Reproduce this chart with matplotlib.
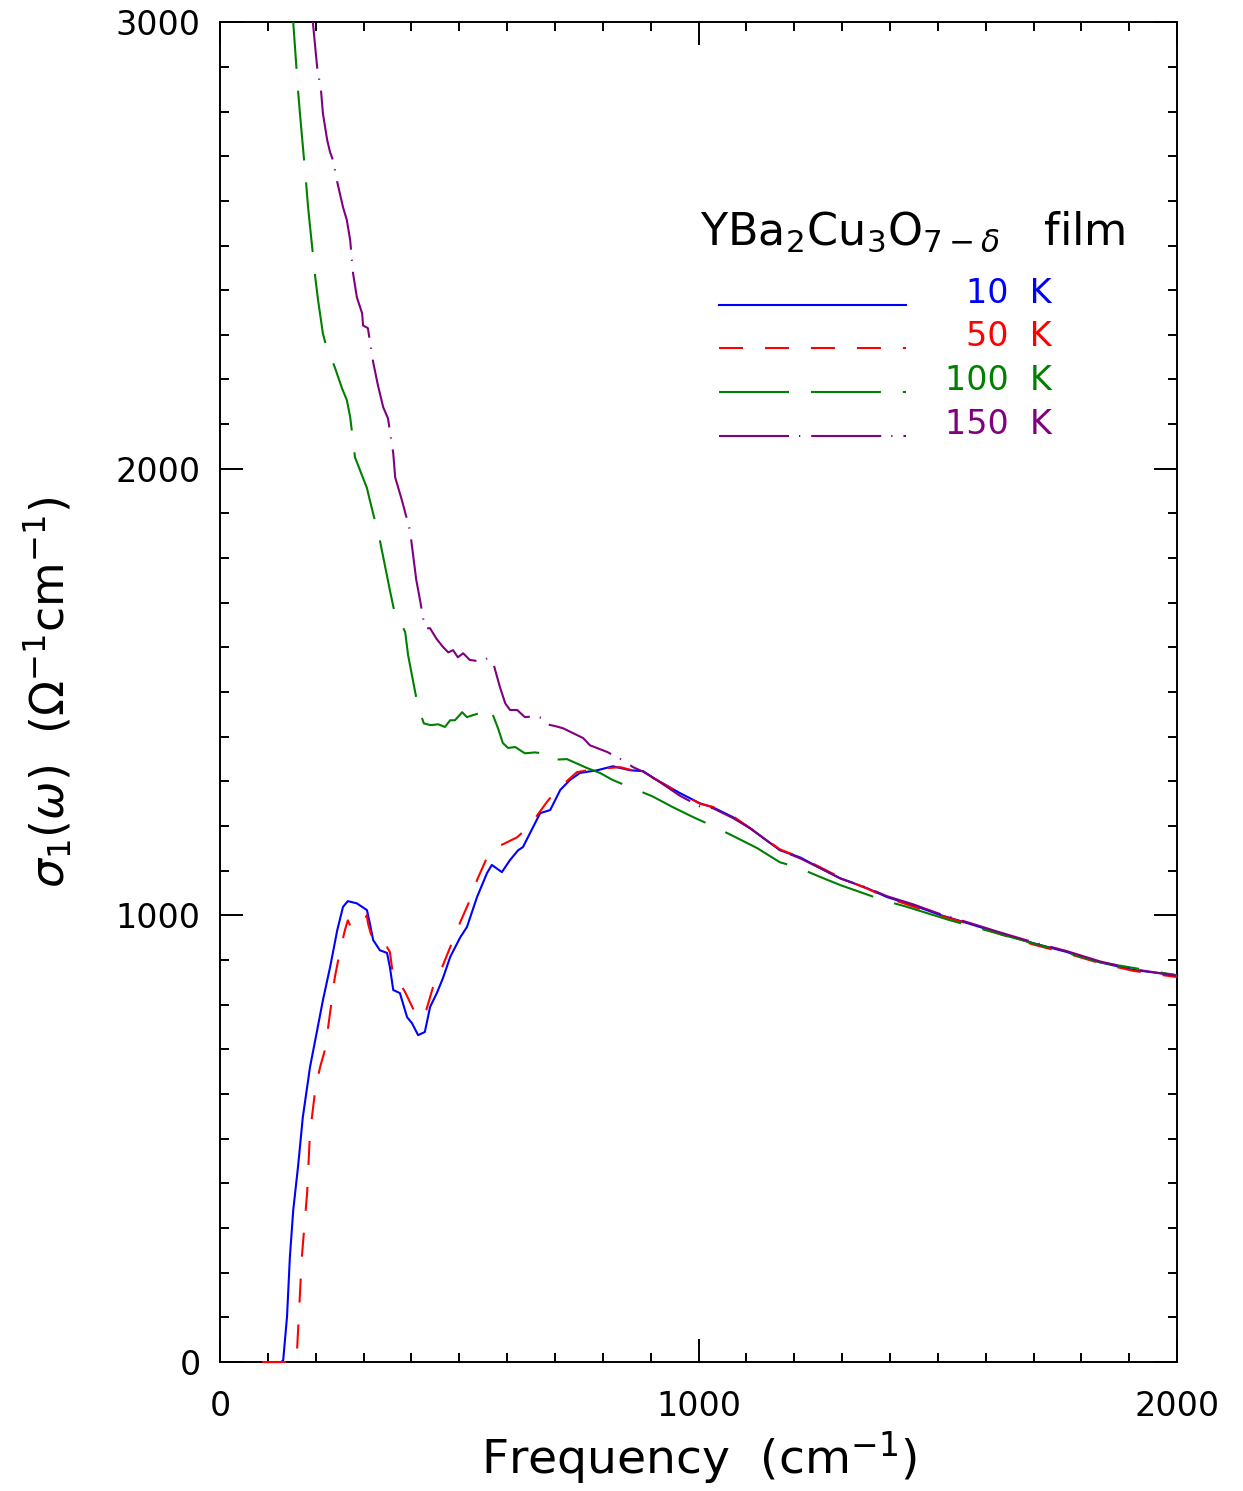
import matplotlib
matplotlib.use('Agg')
import matplotlib.pyplot as plt
from matplotlib.ticker import MultipleLocator

plt.rcParams['lines.scale_dashes'] = False
plt.rcParams['font.family'] = ['DejaVu Sans']
plt.rcParams['mathtext.fontset'] = 'dejavusans'

# sigma_1(omega), frequency in cm^-1, sigma in 1/(Ohm cm)
x_10 = [90, 128, 132, 140, 146, 153, 163, 173, 188, 203, 215, 230, 245, 257, 267, 286,
        307, 313, 320, 334, 349, 355, 362, 376, 382, 391, 401, 414, 428, 439, 453, 466,
        481, 502, 516, 537, 558, 568, 589, 606, 623, 633, 669, 690, 711, 731, 752, 788,
        821, 857, 884, 913, 961, 1003, 1030, 1072, 1108, 1170, 1212, 1254, 1296, 1352,
        1394, 1448, 1505, 1561, 1630, 1699, 1770, 1839, 1908, 1985, 2000]
s_10 = [0, 0, 4, 101, 235, 340, 437, 548, 660, 743, 810, 884, 967, 1019, 1032, 1027,
        1012, 983, 945, 922, 916, 884, 833, 826, 804, 772, 759, 732, 739, 795, 826, 860,
        907, 951, 974, 1041, 1095, 1113, 1097, 1124, 1146, 1153, 1229, 1236, 1281, 1303, 1319, 1325,
        1334, 1325, 1323, 1303, 1274, 1251, 1242, 1220, 1195, 1146, 1130, 1106, 1083, 1061,
        1041, 1023, 1001, 983, 960, 938, 918, 895, 878, 868, 866]

x_50 = [88, 155, 161, 171, 182, 188, 199, 209, 219, 226, 240, 251, 261, 267, 274, 288,
        299, 307, 309, 320, 334, 349, 355, 362, 376, 387, 408, 418, 428, 445, 466, 487,
        502, 522, 537, 558, 564, 579, 621, 648, 683, 704, 746, 788, 836, 884, 913, 961,
        1003, 1030, 1072, 1108, 1170, 1212, 1254, 1296, 1352, 1394, 1448, 1505, 1561, 1630,
        1699, 1770, 1839, 1908, 1985, 2000]
s_50 = [0, 0, 27, 235, 378, 513, 609, 660, 698, 750, 862, 922, 967, 989, 972, 974,
        983, 1001, 983, 940, 929, 929, 918, 862, 848, 828, 781, 770, 777, 839, 889, 945,
        985, 1034, 1079, 1130, 1142, 1153, 1175, 1202, 1254, 1281, 1321, 1328, 1332, 1319, 1303, 1274,
        1250, 1243, 1222, 1195, 1148, 1130, 1108, 1085, 1060, 1040, 1020, 1000, 982, 958,
        935, 915, 893, 876, 864, 862]

x_100 = [150, 153, 163, 167, 180, 184, 199, 205, 215, 224, 230, 240, 255, 265, 272, 282,
         299, 307, 313, 334, 355, 366, 376, 387, 393, 403, 414, 426, 440, 456, 470, 481,
         491, 506, 516, 527, 543, 564, 581, 591, 602, 617, 637, 658, 673, 683, 725, 767,
         794, 821, 857, 903, 947, 989, 1030, 1072, 1122, 1170, 1206, 1250, 1296, 1386,
         1436, 1526, 1624, 1735, 1839, 1950, 2000]
s_100 = [3060, 3000, 2848, 2796, 2639, 2586, 2429, 2377, 2303, 2266, 2254, 2227, 2180, 2154, 2116, 2026,
         1979, 1957, 1930, 1840, 1728, 1672, 1660, 1634, 1583, 1527, 1466, 1430, 1426, 1428, 1422, 1437,
         1437, 1455, 1444, 1448, 1453, 1466, 1419, 1386, 1375, 1377, 1363, 1365, 1363, 1348, 1350, 1330,
         1319, 1303, 1287, 1267, 1242, 1220, 1200, 1178, 1151, 1119, 1108, 1088, 1068, 1034,
         1019, 989, 960, 927, 895, 875, 866]

x_150 = [190, 194, 203, 211, 215, 224, 230, 236, 245, 257, 265, 272, 278, 286, 297, 299,
         309, 320, 330, 341, 351, 362, 366, 380, 397, 410, 418, 428, 439, 452, 466, 477,
         487, 497, 508, 522, 543, 560, 571, 585, 596, 606, 621, 637, 658, 673, 683, 700,
         717, 759, 773, 809, 846, 863, 884, 913, 961, 1003, 1030, 1072, 1108, 1170,
         1212, 1254, 1296, 1352, 1394, 1448, 1505, 1561, 1630, 1699, 1770, 1839, 1908, 1985, 2000]
s_150 = [3060, 3000, 2899, 2848, 2796, 2736, 2709, 2691, 2642, 2586, 2557, 2512, 2438, 2384, 2348, 2321,
         2315, 2239, 2187, 2138, 2113, 2035, 1981, 1930, 1862, 1752, 1706, 1643, 1643, 1620, 1601, 1589,
         1594, 1578, 1587, 1572, 1569, 1576, 1565, 1511, 1475, 1460, 1460, 1444, 1446, 1442, 1428, 1424,
         1419, 1397, 1381, 1366, 1345, 1332, 1322, 1303, 1268, 1244, 1240, 1218, 1195, 1146,
         1128, 1106, 1083, 1062, 1043, 1025, 1003, 985, 962, 940, 920, 897, 880, 867, 865]

labels = ['10  K', '50  K', '100  K', '150  K']
colors = ['blue', 'red', 'green', 'purple']
dashes = [None, (17.3, 15.8), (50.4, 15.8), (50.4, 7.2, 0.9, 7.9)]
series = [(x_10, s_10), (x_50, s_50), (x_100, s_100), (x_150, s_150)]

fig = plt.figure(figsize=(12.43, 14.91), dpi=100)
ax = fig.add_axes([0.177, 0.0865, 0.770, 0.8986])

for (xs, ys), c, d in zip(series, colors, dashes):
    # the low-temperature curves sit on the axis at first, let them show over the spine
    clip = max(ys) > 3000
    if d is None:
        ax.plot(xs, ys, color=c, lw=1.5, solid_joinstyle='round', zorder=3, clip_on=clip)
    else:
        ax.plot(xs, ys, color=c, lw=1.5, dashes=d, zorder=3, clip_on=clip)

ax.set_xlim(0, 2000)
ax.set_ylim(0, 3000)
ax.xaxis.set_major_locator(MultipleLocator(1000))
ax.xaxis.set_minor_locator(MultipleLocator(100))
ax.yaxis.set_major_locator(MultipleLocator(1000))
ax.yaxis.set_minor_locator(MultipleLocator(100))
ax.tick_params(which='both', direction='in', top=True, right=True, width=1.4, colors='black')
ax.tick_params(which='major', length=16.5, labelsize=24)
ax.tick_params(which='minor', length=6.5)
ax.tick_params(axis='x', which='major', pad=20)
ax.tick_params(axis='y', which='major', pad=14)
for sp in ax.spines.values():
    sp.set_linewidth(1.4)

ax.set_xlabel(r'Frequency  (cm$^{-1}$)', fontsize=34)
ax.set_ylabel(r'$\sigma_1(\omega)$  ($\Omega^{-1}$cm$^{-1}$)', fontsize=33)
ax.xaxis.set_label_coords(0.5, -0.05)
ax.yaxis.set_label_coords(-0.152, 0.5)

# legend drawn by hand, like the original
ax.text(0.5016, 0.8336, r'YBa$_2$Cu$_3$O$_{7-\delta}$   film', transform=ax.transAxes,
        fontsize=32, ha='left', va='baseline')
line_y = [0.7888, 0.7567, 0.7239, 0.6910]
for lab, c, d, ly in zip(labels, colors, dashes, line_y):
    if d is None:
        ax.plot([0.5214, 0.7168], [ly, ly], transform=ax.transAxes, color=c, lw=1.5)
    else:
        ax.plot([0.5214, 0.7168], [ly, ly], transform=ax.transAxes, color=c, lw=1.5, dashes=d)
    ax.text(0.869, ly + 0.0085, lab, transform=ax.transAxes, color=c, fontsize=24,
            ha='right', va='center')

fig.savefig('out.png', dpi=100)
